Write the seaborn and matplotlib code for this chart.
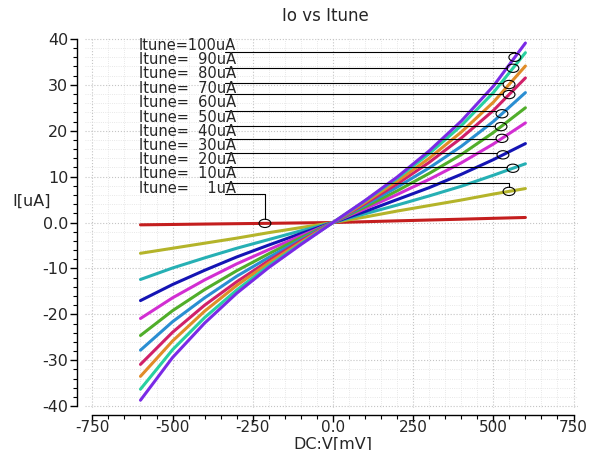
import numpy as np
import pandas as pd
import matplotlib
matplotlib.use("Agg")
import matplotlib.pyplot as plt
from matplotlib.patches import Ellipse
from matplotlib.ticker import MultipleLocator, FuncFormatter
import seaborn as sns

# -----------------------------
# data
# -----------------------------
v_mv = [-600, -500, -400, -300, -200, -100, 0, 100, 200, 300, 400, 500, 600]

i_1ua = [-0.5, -0.42, -0.33, -0.25, -0.17, -0.08, 0, 0.18, 0.37, 0.55, 0.73, 0.92, 1.1]
i_10ua = [-6.7, -5.6, -4.5, -3.4, -2.2, -1.1, 0, 1.2, 2.5, 3.7, 4.9, 6.2, 7.4]
i_20ua = [-12.4, -9.9, -7.7, -5.6, -3.7, -1.8, 0, 1.9, 3.8, 5.8, 7.9, 10.3, 12.8]
i_30ua = [-17.0, -13.5, -10.4, -7.5, -4.9, -2.4, 0, 2.4, 5.0, 7.6, 10.5, 13.7, 17.2]
i_40ua = [-20.9, -16.4, -12.5, -9.0, -5.9, -2.9, 0, 3.0, 6.1, 9.4, 13.0, 17.1, 21.7]
i_50ua = [-24.6, -19.2, -14.6, -10.5, -6.8, -3.3, 0, 3.4, 6.9, 10.7, 14.8, 19.6, 25.0]
i_60ua = [-27.8, -21.6, -16.4, -11.7, -7.6, -3.7, 0, 3.8, 7.7, 11.9, 16.6, 22.0, 28.3]
i_70ua = [-30.9, -23.9, -18.0, -12.9, -8.3, -4.0, 0, 4.1, 8.4, 13.1, 18.4, 24.4, 31.5]
i_80ua = [-33.5, -25.8, -19.3, -13.7, -8.8, -4.3, 0, 4.4, 9.0, 14.0, 19.7, 26.2, 34.1]
i_90ua = [-36.3, -27.7, -20.7, -14.7, -9.4, -4.6, 0, 4.7, 9.6, 15.0, 21.1, 28.3, 37.0]
i_100ua = [-38.7, -29.4, -21.9, -15.4, -9.8, -4.8, 0, 4.8, 9.9, 15.6, 22.1, 29.7, 39.1]

itune = [1, 10, 20, 30, 40, 50, 60, 70, 80, 90, 100]
curves = [i_1ua, i_10ua, i_20ua, i_30ua, i_40ua, i_50ua,
          i_60ua, i_70ua, i_80ua, i_90ua, i_100ua]
colors = ["#c41e1e", "#b4b42a", "#26b0b4", "#1414b4", "#d22ed2", "#50ae2a",
          "#2a8ed2", "#d0206a", "#e08c28", "#28d0a0", "#7a2ae6"]

labels = ["Itune=    1uA", "Itune=  10uA", "Itune=  20uA", "Itune=  30uA",
          "Itune=  40uA", "Itune=  50uA", "Itune=  60uA", "Itune=  70uA",
          "Itune=  80uA", "Itune=  90uA", "Itune=100uA"]
# where each marker circle sits on its curve (mV)
marker_v = [-212, 549, 561, 530, 527, 524, 527, 549, 549, 561, 567]
# height of the leader line next to each label (uA)
leader_y = [6.3, 8.7, 12.0, 15.2, 18.3, 21.1, 24.3, 28.0, 30.4, 33.7, 37.2]
# baseline of each label text (uA)
text_y = [6.5, 9.6, 12.7, 15.8, 18.9, 22.0, 25.2, 28.3, 31.4, 34.5, 37.6]

df = pd.DataFrame({
    "V": np.tile(v_mv, len(itune)),
    "I": np.concatenate(curves),
    "Itune": np.repeat(itune, len(v_mv)),
})

# -----------------------------
# plot
# -----------------------------
sns.set_style("white")
plt.rcParams["font.family"] = ["DejaVu Sans"]

fig = plt.figure(figsize=(5.94, 4.5), dpi=100)
ax = fig.add_axes([85 / 594, 1 - 408 / 450, 493 / 594, 370 / 450])

sns.lineplot(data=df, x="V", y="I", hue="Itune", palette=colors,
             linewidth=2.2, legend=False, ax=ax, zorder=3)

ax.set_xlim(-773, 764)
ax.set_ylim(-40.4, 40.2)

ax.xaxis.set_major_locator(MultipleLocator(250))
ax.xaxis.set_minor_locator(MultipleLocator(50))
ax.yaxis.set_major_locator(MultipleLocator(10))
ax.yaxis.set_minor_locator(MultipleLocator(2))

fmt = FuncFormatter(lambda v, p: "0.0" if abs(v) < 1e-9 else f"{v:.0f}")
ax.xaxis.set_major_formatter(fmt)
ax.yaxis.set_major_formatter(fmt)

ax.grid(which="major", color="#c4c4c4", linestyle=":", linewidth=0.8)
ax.grid(which="minor", color="#e0e0e0", linestyle=":", linewidth=0.6)

for side in ["top", "right"]:
    ax.spines[side].set_visible(False)
ax.spines["left"].set_position(("outward", 6))
ax.spines["bottom"].set_position(("outward", 5))
ax.spines["left"].set_bounds(-40, 40)
ax.spines["bottom"].set_bounds(-750, 750)
for side in ["left", "bottom"]:
    ax.spines[side].set_color("black")
    ax.spines[side].set_linewidth(1.0)

ax.tick_params(which="major", direction="out", length=5, width=1.0,
               labelsize=11.5, color="black", pad=1)
ax.tick_params(which="minor", direction="out", length=3, width=0.8,
               color="black")
ax.tick_params(axis="x", which="both", bottom=True, pad=-1.5, labelsize=11)
ax.tick_params(axis="y", which="both", left=True)

ax.set_xlabel("")
ax.set_ylabel("")
fig.text(333 / 594, 1 - 444 / 450, "DC:V[mV]", ha="center", va="center",
         fontsize=11.5)
fig.text(32 / 594, 1 - 201 / 450, "I[uA]", ha="center", va="center",
         fontsize=11.5)
fig.text(325 / 594, 1 - 16 / 450, "Io vs Itune", ha="center", va="center",
         fontsize=12)

# -----------------------------
# labels, leader lines and circles
# -----------------------------
ew, eh = 37, 1.8
x_text_end = -302
x_line_start = -335
for lab, mv, ly, ty, curve in zip(labels, marker_v, leader_y, text_y, curves):
    cy = np.interp(mv, v_mv, curve)
    ax.text(x_text_end, ty, lab, ha="right", va="baseline",
            fontsize=10.5, zorder=5)
    ax.add_patch(Ellipse((mv, cy), ew, eh, fill=False, edgecolor="black",
                         linewidth=0.8, zorder=6))
    if abs(ly - cy) < eh / 2:
        ax.plot([x_line_start, mv - ew / 2], [ly, ly], color="black",
                linewidth=0.8, zorder=4)
    else:
        end_y = cy + np.sign(ly - cy) * eh / 2
        ax.plot([x_line_start, mv, mv], [ly, ly, end_y], color="black",
                linewidth=0.8, zorder=4)

fig.savefig("out.png", dpi=100)
